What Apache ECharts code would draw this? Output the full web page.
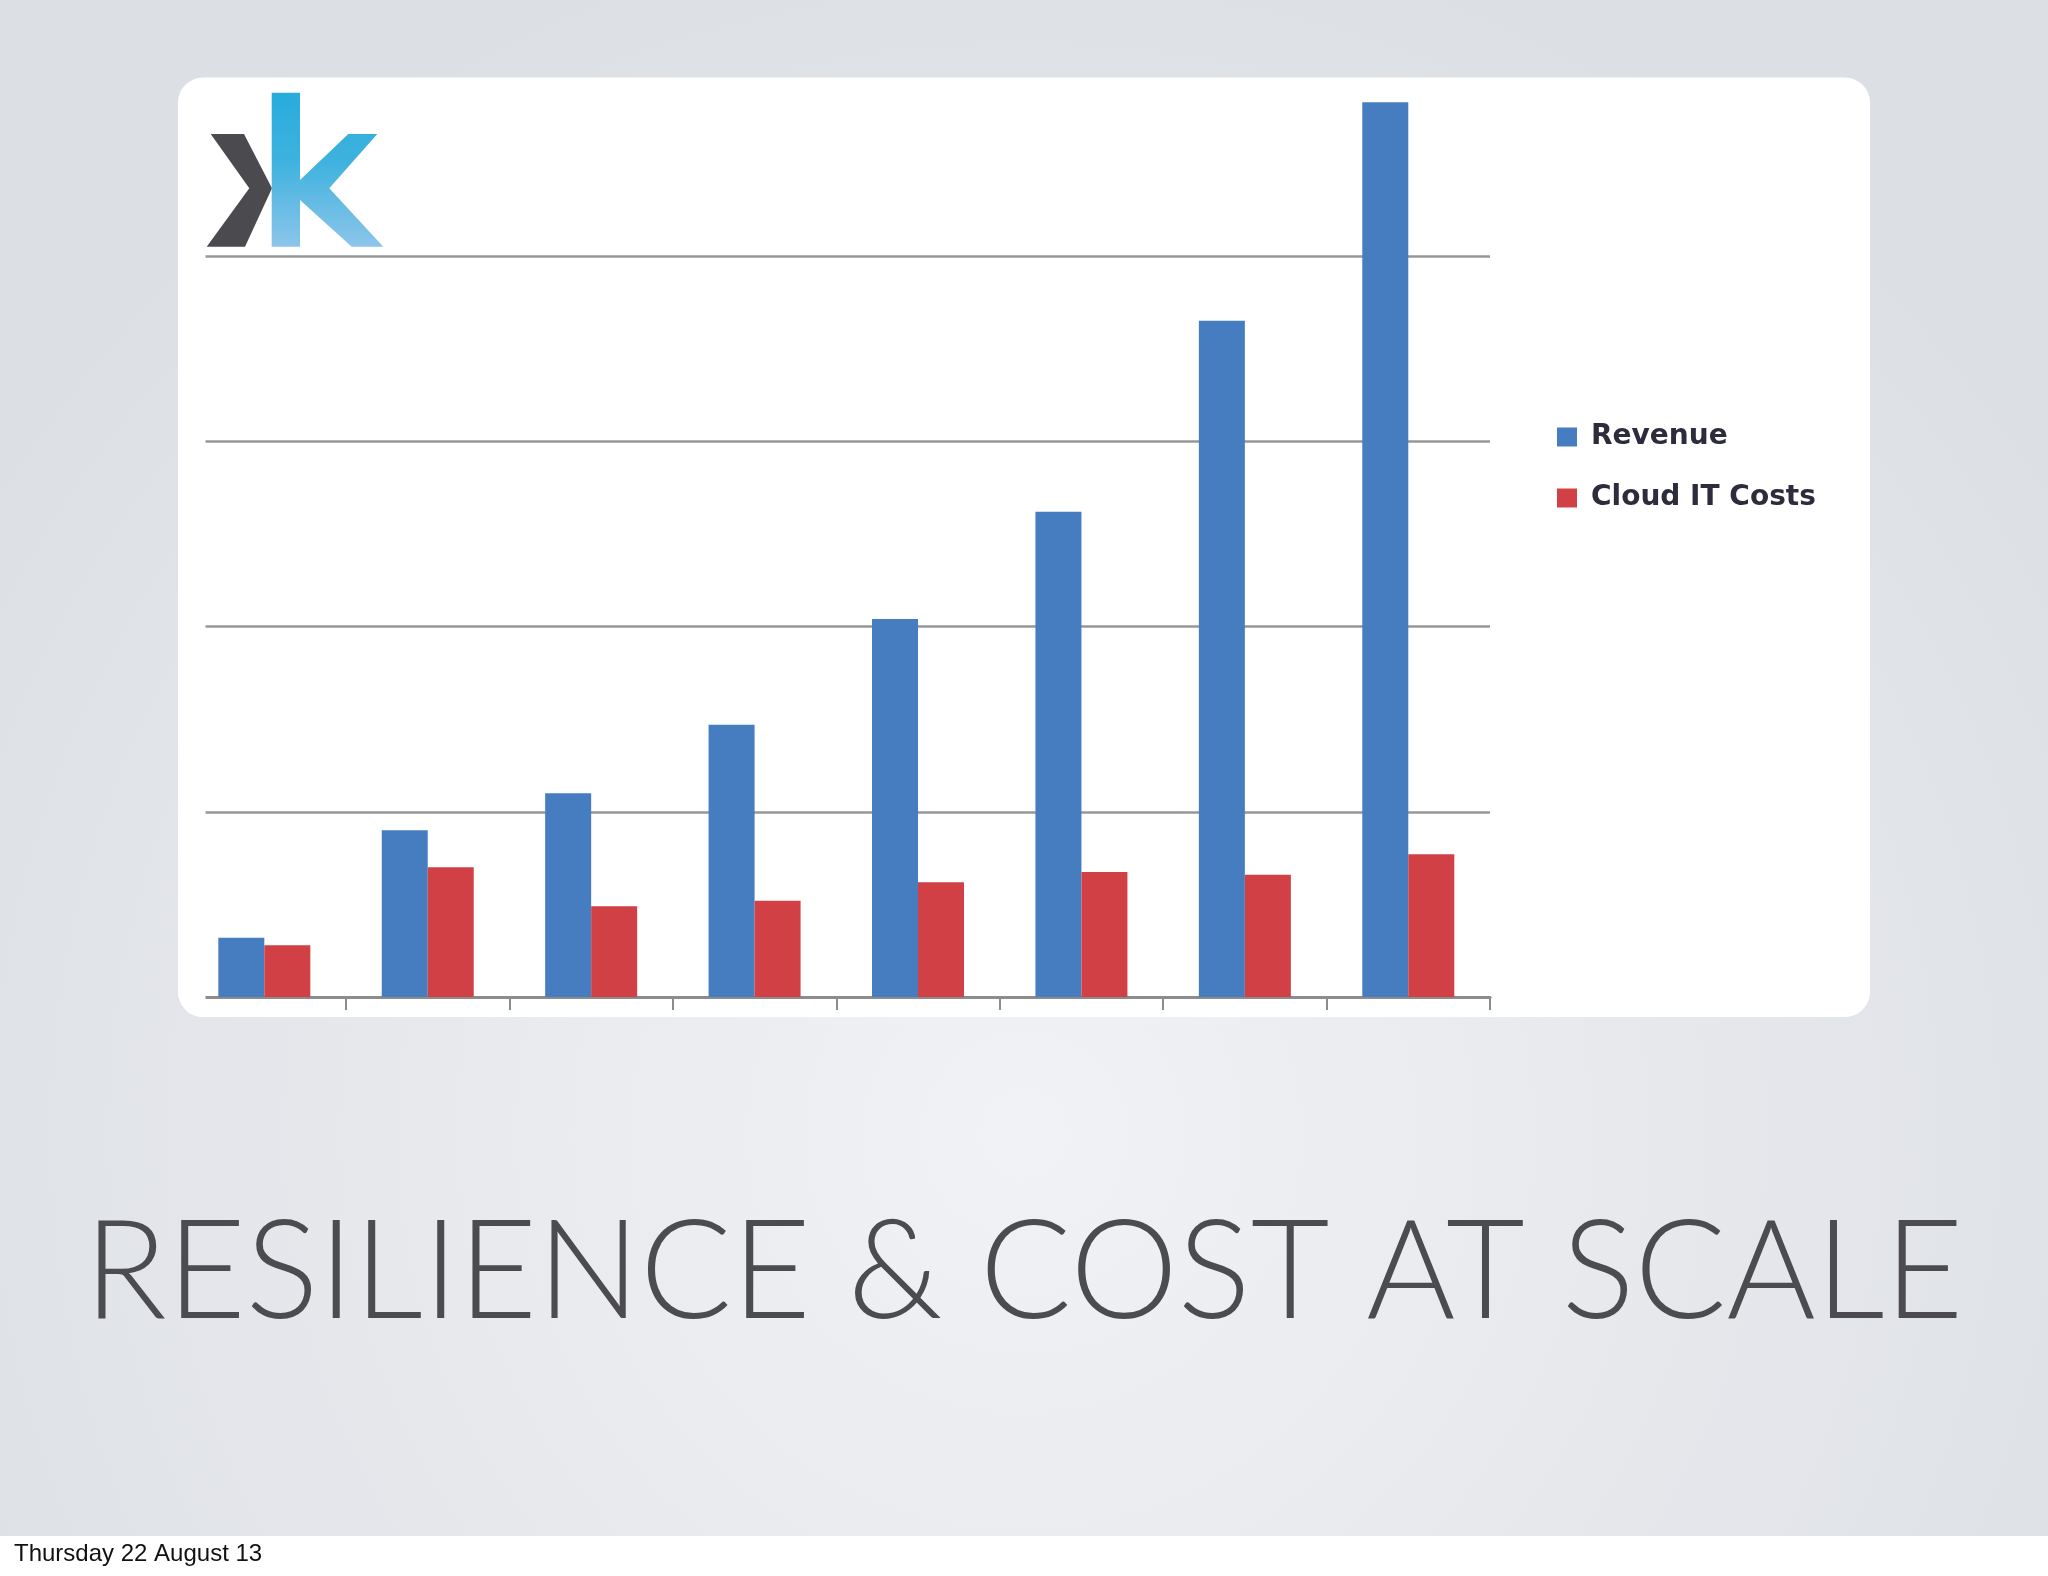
<!DOCTYPE html>
<html>
<head>
<meta charset="utf-8">
<script src="https://cdn.jsdelivr.net/npm/echarts@6/dist/echarts.min.js"></script>
<style>
html,body{margin:0;padding:0;}
#chart{width:2048px;height:1576px;}
</style>
</head>
<body>
<div id="chart"></div>
<script>
// ---- data ----
const categories = ['P1', 'P2', 'P3', 'P4', 'P5', 'P6', 'P7', 'P8'];
const revenue = [0.32, 0.90, 1.10, 1.47, 2.04, 2.62, 3.65, 4.83];
const cloudCosts = [0.28, 0.70, 0.49, 0.52, 0.62, 0.675, 0.66, 0.77];
const seriesNames = ['Revenue', 'Cloud IT Costs'];
const yMin = 0, yMax = 5, yInterval = 1;
const titleText = 'RESILIENCE & COST AT SCALE';
const footerText = 'Thursday 22 August 13';

// ---- helpers ----
function fitScale(text, font, targetWidth) {
  const c = document.createElement('canvas').getContext('2d');
  c.font = font;
  const m = c.measureText(text);
  const inkLeft = -(m.actualBoundingBoxLeft || 0);
  const inkW = (m.actualBoundingBoxRight || m.width) + (m.actualBoundingBoxLeft || 0);
  return { s: targetWidth / inkW, inkLeft: inkLeft };
}

const titleFont = '300 139px Lato';
const tf = fitScale(titleText, titleFont, 1859);

const chart = echarts.init(document.getElementById('chart'), null, { renderer: 'canvas' });

const bgFill = { type: 'radial', x: 1024, y: 1134.7, r: 1260.8, global: true,
  colorStops: [{ offset: 0, color: '#f1f2f5' }, { offset: 1, color: '#dcdfe4' }] };

const gridLine = '#979797';
const option = {
  animation: false,
  graphic: [
    { type: 'rect', z: -10, silent: true,
      shape: { x: 0, y: 0, width: 2048, height: 1576 }, style: { fill: bgFill } },
    { type: 'rect', z: -9, silent: true,
      shape: { x: 0, y: 1536, width: 2048, height: 40 }, style: { fill: '#ffffff' } },
    { type: 'rect', z: -9, silent: true,
      shape: { x: 178, y: 77.5, width: 1692, height: 939.5, r: 25 }, style: { fill: '#ffffff' } },
    // the original picture starts its rules at x≈206: cover the margin (background patch + white card corner)
    { type: 'rect', z: 5, silent: true,
      shape: { x: 179, y: 998, width: 8, height: 15 }, style: { fill: bgFill } },
    { type: 'rect', z: 6, silent: true,
      shape: { x: 178, y: 240, width: 27.5, height: 777, r: [0, 0, 0, 25] }, style: { fill: '#ffffff' } },
    // logo
    { type: 'polygon', z: 10, silent: true,
      shape: { points: [[210.7,134],[244,134],[272,188.3],[245,246.7],[206.7,246.7],[249.3,188.3]] },
      style: { fill: '#4b4b4f' } },
    { type: 'polygon', z: 11, silent: true,
      shape: { points: [[271.7,92.7],[300,92.7],[300,180],[348.3,134],[377.3,134],[329.3,188.3],[383.3,246.7],[351.7,246.7],[300,200],[300,246.7],[271.7,246.7]] },
      style: { fill: { type: 'linear', x: 0, y: 92.7, x2: 0, y2: 246.7, global: true,
        colorStops: [{ offset: 0, color: '#27acdc' }, { offset: 0.45, color: '#3fb2df' }, { offset: 1, color: '#8cc5ea' }] } } },
    // title
    { type: 'text', z: 10, silent: true, x: 98 - tf.s * tf.inkLeft, y: 1273, scaleX: tf.s, scaleY: 1,
      style: { text: titleText, font: titleFont, fill: '#4c4c50', align: 'left', verticalAlign: 'middle' } },
    // footer
    { type: 'text', z: 10, silent: true, x: 14, y: 1554,
      style: { text: footerText, font: '24px "Liberation Sans", Arial, sans-serif', fill: '#111111', align: 'left', verticalAlign: 'middle' } }
  ],
  legend: {
    orient: 'vertical', left: 1552, top: 418,
    itemWidth: 20, itemHeight: 19, itemGap: 33, icon: 'rect',
    data: seriesNames,
    textStyle: { fontFamily: 'DejaVu Sans', fontSize: 28, fontWeight: 'bold', color: '#2c2c3c', padding: [0, 0, 0, 9] }
  },
  grid: { left: 182.6, right: 558, top: 70.75, bottom: 579, containLabel: false },
  xAxis: {
    type: 'category', data: categories, boundaryGap: true,
    axisLine: { lineStyle: { color: '#8c8c8c', width: 3 } },
    axisTick: { show: true, length: 13, lineStyle: { color: '#8c8c8c', width: 2 } },
    axisLabel: { show: false },
    splitLine: { show: false }
  },
  yAxis: {
    type: 'value', min: yMin, max: yMax, interval: yInterval,
    axisLabel: { show: false }, axisLine: { show: false }, axisTick: { show: false },
    splitLine: { lineStyle: { width: 2.5, color: ['rgba(0,0,0,0)', gridLine, gridLine, gridLine, gridLine, 'rgba(0,0,0,0)'] } }
  },
  series: [
    { type: 'bar', name: seriesNames[0], data: revenue, barWidth: 46, barGap: '0%', itemStyle: { color: '#467cc0' } },
    { type: 'bar', name: seriesNames[1], data: cloudCosts, barWidth: 46, barGap: '0%', itemStyle: { color: '#d04044' } }
  ]
};
chart.setOption(option);
</script>
</body>
</html>
